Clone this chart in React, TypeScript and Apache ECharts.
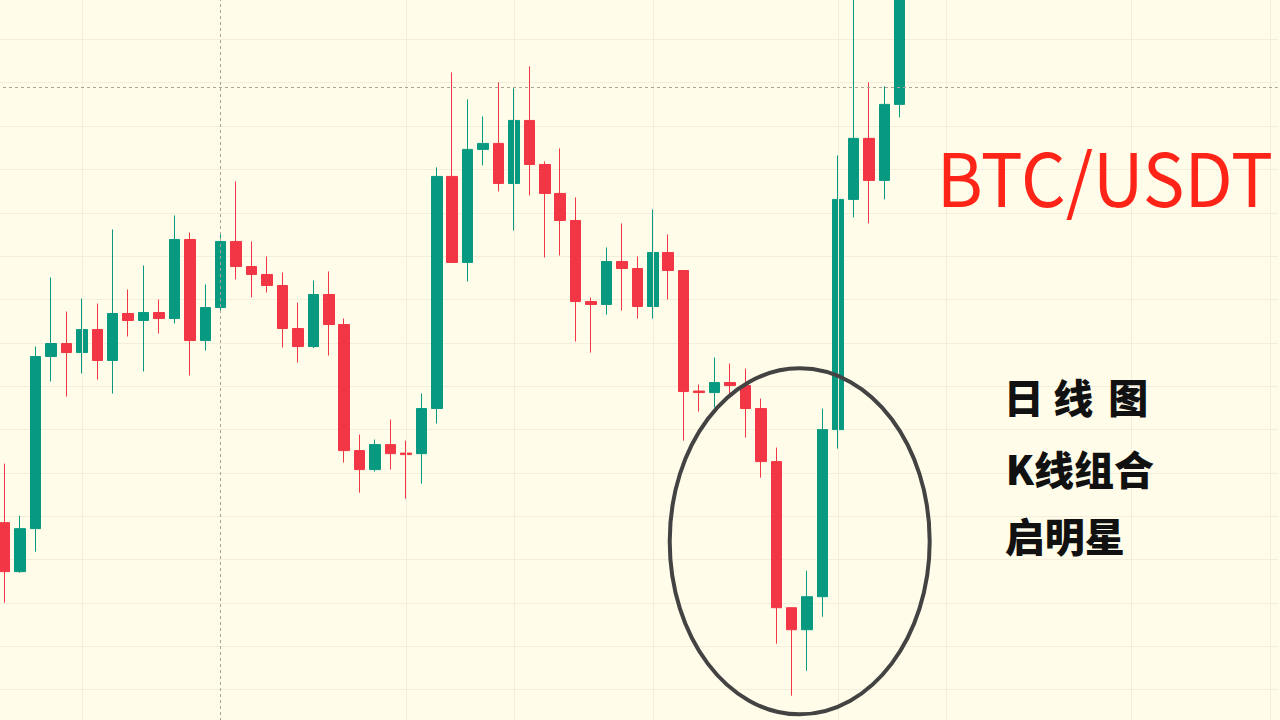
import React, { useEffect, useRef } from "react";
import * as echarts from "echarts";

// Daily candles (price in USDT)
const DATES = (
  "05-23 05-24 05-25 05-26 05-27 05-28 05-29 05-30 05-31 " +
  "06-01 06-02 06-03 06-04 06-05 06-06 06-07 06-08 06-09 06-10 06-11 06-12 06-13 06-14 06-15 " +
  "06-16 06-17 06-18 06-19 06-20 06-21 06-22 06-23 06-24 06-25 06-26 06-27 06-28 06-29 06-30 " +
  "07-01 07-02 07-03 07-04 07-05 07-06 07-07 07-08 07-09 07-10 07-11 07-12 07-13 07-14 07-15 " +
  "07-16 07-17 07-18 07-19 07-20 07-21 07-22 07-23 07-24 07-25 07-26 07-27 07-28 07-29 07-30 " +
  "07-31 08-01 08-02 08-03 08-04 08-05 08-06 08-07 08-08 08-09 08-10 08-11 08-12 08-13"
).split(" ");

const OPEN = [
  29426, 28861, 29357, 31342, 31492, 31388, 31653, 31296, 31838, 31757,
  31850, 31780, 32692, 31526, 31907, 32669, 32380, 32288, 32161, 31665,
  31457, 32057, 31711, 30257, 30038, 30326, 30228, 30222, 30742, 33419,
  32427, 33731, 33800, 33338, 34065, 33557, 33223, 32911, 31976, 31942,
  32438, 32357, 31919, 32542, 32334, 30944, 30926, 31042, 31007, 30742,
  30130, 28445, 28191, 28572, 30499, 33154, 33858, 33373, 34250,
];
const CLOSE = [
  28861, 29357, 31342, 31492, 31388, 31653, 31296, 31838, 31757, 31850,
  31780, 32692, 31526, 31907, 32669, 32380, 32288, 32161, 31665, 31457,
  32057, 31711, 30257, 30038, 30326, 30222, 30211, 30742, 33419, 32427,
  33731, 33800, 33338, 34065, 33557, 33223, 32911, 31976, 31942, 32438,
  32357, 31919, 32542, 32334, 30938, 30926, 31042, 31007, 30742, 30130,
  28445, 28191, 28572, 30499, 33154, 33858, 33373, 34250, 35912,
];
const LOW = [
  28503, 28849, 29091, 31053, 30880, 31146, 31076, 30915, 31573, 31169,
  31607, 31723, 31123, 31411, 31873, 32230, 32023, 32080, 31446, 31273,
  31440, 31353, 30119, 29772, 30015, 30038, 29703, 29876, 30569, 32420,
  32207, 33546, 33246, 32796, 33200, 32484, 32507, 31515, 31388, 31826,
  31873, 31780, 31780, 31999, 30372, 30707, 30753, 30892, 30407, 29945,
  28030, 27430, 27718, 28341, 30280, 32946, 32877, 33154, 34100,
];
const HIGH = [
  30107, 29507, 31457, 32253, 31861, 32011, 31953, 32807, 32115, 32392,
  31999, 32969, 32773, 32173, 32773, 33361, 32669, 32496, 32311, 31965,
  32219, 32323, 31780, 30442, 30384, 30615, 30372, 30915, 33523, 34619,
  34308, 34111, 34504, 34435, 34688, 33592, 33742, 33177, 32023, 32600,
  32877, 32496, 33038, 32750, 32334, 31019, 31330, 31261, 31203, 30857,
  30292, 28445, 28872, 30742, 33661, 35681, 34504, 34458, 36142,
];

// Vertical date grid lines (category indices) and crosshair
const V_GRID = [5, 26, 33, 42, 54, 61, 73, 82];
const CROSS_X = 14;
const CROSS_Y = 34452;

const Y_MIN = 27000;
const Y_MAX = 35500;
const Y_STEP = 500;

const TITLE = "BTC/USDT";
const NOTE_1 = ["日", "线", "图"];
const NOTE_2 = "K线组合";
const NOTE_3 = "启明星";

const UP = "#089981";
const DOWN = "#f23645";
const BG = "#fffce9";
const GRID = "#f2eedb";

// the chart div is shifted so that the plot extends slightly past the page
const OX = 2.7;
const OY = 4.33;

export default function App() {
  const ref = useRef<HTMLDivElement>(null);

  useEffect(() => {
    const chart = echarts.init(ref.current!, null, { renderer: "svg" });
    const data = OPEN.map((o, i) => [o, CLOSE[i], LOW[i], HIGH[i]]);
    const noteStyle = {
      fill: "#111",
      fontSize: 40,
      fontWeight: 900,
      fontFamily: '"Noto Sans CJK SC", sans-serif',
      verticalAlign: "middle",
    };
    const option = {
      animation: false,
      backgroundColor: BG,
      grid: { left: 0, width: 83 * 15.431, top: 0, bottom: 0 },
      xAxis: {
        type: "category",
        data: DATES,
        boundaryGap: true,
        axisLine: { show: false },
        axisTick: { show: false },
        axisLabel: { show: false },
        splitLine: { show: false },
      },
      yAxis: {
        type: "value",
        min: Y_MIN,
        max: Y_MAX,
        interval: Y_STEP,
        axisLine: { show: false },
        axisTick: { show: false },
        axisLabel: { show: false },
        splitLine: { show: true, lineStyle: { color: GRID, width: 1 } },
      },
      series: [
        {
          type: "line",
          data: [],
          z: 1,
          silent: true,
          markLine: {
            silent: true,
            symbol: ["none", "none"],
            label: { show: false },
            lineStyle: { color: GRID, width: 1, type: "solid" },
            data: V_GRID.map((i) => ({ xAxis: i })),
          },
        },
        {
          type: "candlestick",
          data,
          z: 2,
          barWidth: 11,
          itemStyle: {
            color: UP,
            color0: DOWN,
            borderColor: UP,
            borderColor0: DOWN,
            borderWidth: 1,
          },
        },
        {
          type: "line",
          data: [],
          z: 3,
          silent: true,
          markLine: {
            silent: true,
            symbol: ["none", "none"],
            label: { show: false },
            lineStyle: { color: "#a9a596", width: 1, type: [3, 3] },
            data: [{ xAxis: CROSS_X }, { yAxis: CROSS_Y }],
          },
        },
      ],
      graphic: [
        {
          type: "ellipse",
          z: 100,
          shape: { cx: 800 + OX, cy: 541 + OY, rx: 130, ry: 173 },
          style: { fill: "none", stroke: "#434343", lineWidth: 4 },
        },
        {
          type: "text",
          z: 100,
          x: 937 + OX,
          y: 175 + OY,
          scaleX: 0.96,
          style: {
            text: TITLE,
            fill: "#ff2418",
            fontSize: 73,
            fontFamily: '"Noto Sans CJK SC", "Noto Sans", sans-serif',
            align: "left",
            verticalAlign: "middle",
          },
        },
        ...NOTE_1.map((t, i) => ({
          type: "text",
          z: 100,
          x: [1024, 1073.5, 1128.5][i] + OX,
          y: 396 + OY,
          style: { ...noteStyle, text: t, align: "center" },
        })),
        {
          type: "text",
          z: 100,
          x: 1006 + OX,
          y: 468 + OY,
          style: { ...noteStyle, text: NOTE_2, align: "left" },
        },
        {
          type: "text",
          z: 100,
          x: 1005 + OX,
          y: 535 + OY,
          style: { ...noteStyle, text: NOTE_3, align: "left" },
        },
      ],
    };
    chart.setOption(option);
    return () => chart.dispose();
  }, []);

  return (
    <div
      ref={ref}
      style={{
        position: "fixed",
        left: -OX,
        top: -OY,
        width: 1283.5,
        height: 720 + OY + 12.33,
      }}
    />
  );
}
